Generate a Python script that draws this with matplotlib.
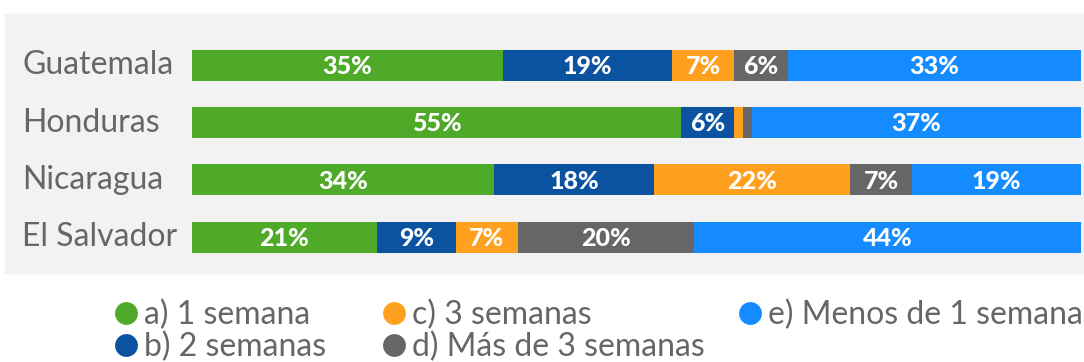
import numpy as np
import matplotlib.pyplot as plt
from matplotlib.patches import Rectangle
from matplotlib.transforms import blended_transform_factory

countries = ["Guatemala", "Honduras", "Nicaragua", "El Salvador"]
series_names = ["a) 1 semana", "b) 2 semanas", "c) 3 semanas",
                "d) Más de 3 semanas", "e) Menos de 1 semana"]
semana_1 = [35, 55, 34, 21]
semanas_2 = [19, 6, 18, 9]
semanas_3 = [7, 1, 22, 7]
mas_de_3 = [6, 1, 7, 20]
menos_de_1 = [33, 37, 19, 44]
colors = ["#4eaa28", "#0b53a0", "#ffa11f", "#666666", "#148cff"]

plt.rcParams['font.family'] = ['Lato', 'DejaVu Sans']
text_gray = "#666666"

values = np.array([semana_1, semanas_2, semanas_3, mas_de_3, menos_de_1], dtype=float)
# 100% stacked: each row scaled to its own total
shares = values / values.sum(axis=0) * 100

fig = plt.figure(figsize=(10.84, 3.62), dpi=100)
W, H = 1084, 362

# light gray panel behind the bars
fig.patches.append(Rectangle((5 / W, 1 - 273 / H), 1, 259 / H,
                             transform=fig.transFigure, color="#f2f2f2", zorder=-5))

ax = fig.add_axes([192 / W, 1 - 266 / H, 889 / W, 229.4 / H])
ax.set_facecolor("none")
y = np.arange(len(countries))
left = np.zeros(len(countries))
for i in range(len(series_names)):
    ax.barh(y, shares[i], left=left, height=0.54, color=colors[i], linewidth=0)
    for j in range(len(countries)):
        if values[i, j] >= 5:
            ax.text(left[j] + shares[i, j] / 2, y[j] + 0.02, f"{values[i, j]:.0f}%",
                    ha="center", va="center", color="white",
                    fontsize=18, fontweight="black")
    left += shares[i]

ax.set_xlim(0, 100)
ax.set_ylim(len(countries) - 0.5, -0.5)
ax.set_xticks([])
ax.set_yticks([])
for s in ax.spines.values():
    s.set_visible(False)

trans = blended_transform_factory(fig.transFigure, ax.transData)
for j, name in enumerate(countries):
    ax.text(22 / W, y[j], name, transform=trans, ha="left", va="center",
            fontsize=23, color=text_gray)

# legend laid out by hand in three columns
leg = fig.add_axes([0, 0, 1, 1])
leg.set_xlim(0, W)
leg.set_ylim(H, 0)
leg.axis("off")
marker_pos = [(126, 313), (126, 345), (394, 313), (394, 345), (750, 313)]
for (mx, my), name, c in zip(marker_pos, series_names, colors):
    leg.scatter([mx], [my], s=270, color=c, linewidths=0, clip_on=False)
    leg.text(mx + 18, my + 11, name, ha="left", va="baseline",
             fontsize=23, color=text_gray)

fig.savefig("out.png", dpi=100)
